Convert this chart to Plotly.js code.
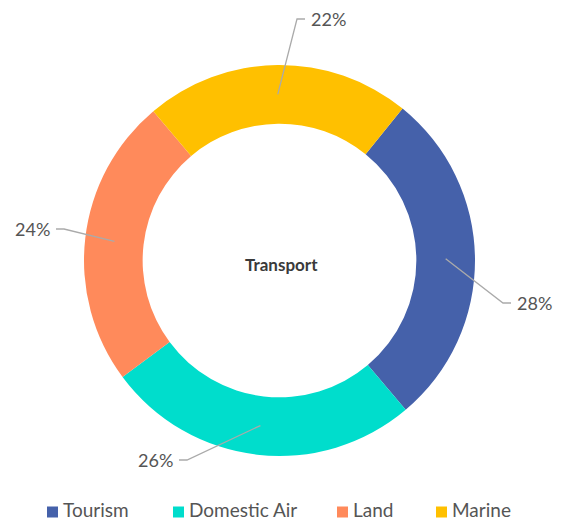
<!DOCTYPE html>
<html>
<head>
<meta charset="utf-8">
<script src="https://cdn.plot.ly/plotly-3.0.1.min.js"></script>
<style>html,body{margin:0;padding:0;background:#fff;}#chart{width:561px;height:523px;}</style>
</head>
<body>
<div id="chart"></div>
<script>
// ---- data ----
var categories = ["Tourism", "Domestic Air", "Land", "Marine"];
var shares = [28, 26, 24, 22];
var colors = ["#4561aa", "#00ddcc", "#ff8a5b", "#ffc000"];
var centerTitle = "Transport";

// ---- layout geometry (pixels) ----
var W = 561, H = 523;
var L = 84, T = 65, PW = 391, PH = 391;
var CX = L + PW / 2, CY = T + PH / 2;
var R_OUT = PW / 2, HOLE = 0.7;
var R_MID = R_OUT * (1 + HOLE) / 2;
var ROTATION = 39;
var labelElbow = [[503, 303], [187, 460], [64, 229], [297, 19]];
var legendX = [47, 173, 337, 436];
var legendSquareY = 512;
var legendTextBottom = 522;
var FONT = "Lato, 'Open Sans', sans-serif";
var TEXT_COLOR = "#555555";

function px(x) { return (x - L) / PW; }
function py(y) { return 1 - (y - T) / PH; }

var total = shares.reduce(function (a, b) { return a + b; }, 0);
var shapes = [], annotations = [];
var cum = 0;
shares.forEach(function (v, i) {
  var mid = ROTATION + (cum + v / 2) / total * 360;
  cum += v;
  var a = mid * Math.PI / 180;
  var ax = CX + R_MID * Math.sin(a), ay = CY - R_MID * Math.cos(a);
  var e = labelElbow[i];
  var right = e[0] > CX;
  var endX = e[0] + (right ? 8 : -8);
  shapes.push({
    type: "path", xref: "paper", yref: "paper",
    path: "M" + px(ax) + "," + py(ay) + " L" + px(e[0]) + "," + py(e[1]) + " L" + px(endX) + "," + py(e[1]),
    line: { color: "#aaaaaa", width: 1.3 }
  });
  annotations.push({
    xref: "paper", yref: "paper", showarrow: false,
    x: px(endX + (right ? 5 : -5)), y: py(e[1]),
    xanchor: right ? "left" : "right", yanchor: "middle",
    text: Math.round(v / total * 100) + "%",
    font: { family: FONT, size: 18, color: TEXT_COLOR }, borderpad: 0
  });
});

// custom legend
categories.forEach(function (c, i) {
  var x0 = legendX[i];
  shapes.push({
    type: "rect", xref: "paper", yref: "paper",
    x0: px(x0), x1: px(x0 + 11), y0: py(legendSquareY - 5.5), y1: py(legendSquareY + 5.5),
    fillcolor: colors[i], line: { width: 0 }
  });
  annotations.push({
    xref: "paper", yref: "paper", showarrow: false,
    x: px(x0 + 15), y: py(legendTextBottom), xanchor: "left", yanchor: "bottom",
    text: c, font: { family: FONT, size: 19, color: TEXT_COLOR }, borderpad: 0
  });
});

annotations.push({
  xref: "paper", yref: "paper", showarrow: false,
  x: px(CX + 2), y: py(CY + 4), xanchor: "center", yanchor: "middle",
  text: "<b>" + centerTitle + "</b>",
  font: { family: FONT, size: 17, color: "#3a3a3a" }
});

var trace = {
  type: "pie",
  labels: categories,
  values: shares,
  hole: HOLE,
  sort: false,
  direction: "clockwise",
  rotation: ROTATION,
  textinfo: "none",
  hoverinfo: "label+percent",
  marker: { colors: colors, line: { width: 0 } }
};

var layout = {
  width: W, height: H,
  margin: { l: L, r: W - L - PW, t: T, b: H - T - PH, pad: 0 },
  showlegend: false,
  paper_bgcolor: "#ffffff",
  plot_bgcolor: "#ffffff",
  shapes: shapes,
  annotations: annotations,
  font: { family: FONT }
};

Plotly.newPlot("chart", [trace], layout, { displayModeBar: false, staticPlot: true });
</script>
</body>
</html>
